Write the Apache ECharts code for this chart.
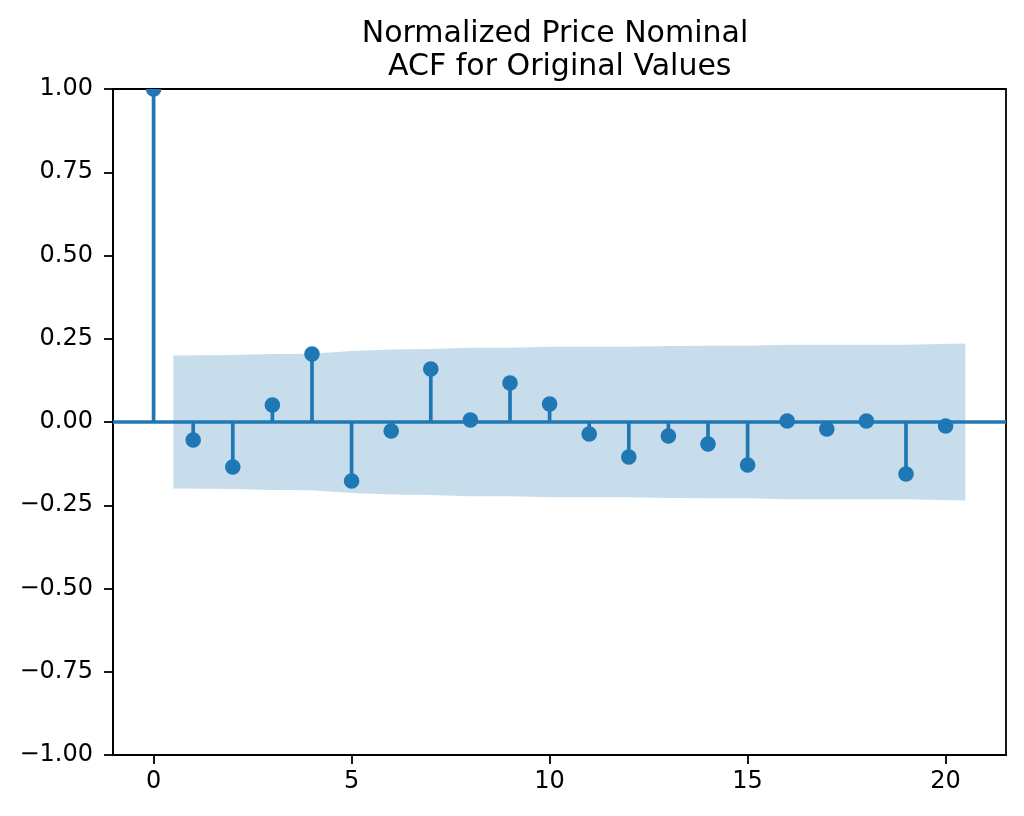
<!DOCTYPE html>
<html>
<head>
<meta charset="utf-8">
<script src="https://cdn.jsdelivr.net/npm/echarts@6/dist/echarts.min.js"></script>
<style>html,body{margin:0;padding:0;background:#fff}#c{width:1024px;height:816px}</style>
</head>
<body>
<div id="c"></div>
<script>
const titleText = "Normalized Price Nominal\n ACF for Original Values";
const lags = [0,1,2,3,4,5,6,7,8,9,10,11,12,13,14,15,16,17,18,19,20];
const acfValues = [1.0,-0.054,-0.135,0.051,0.204,-0.177,-0.027,0.159,0.006,0.117,0.054,-0.036,-0.105,-0.042,-0.066,-0.129,0.003,-0.021,0.003,-0.156,-0.012];
const bandLags = [0.5,2,3,4,5,6,7,8,9,10,11,12,13,14,15,16,17,18,19,20.5];
const bandValues = [0.200,0.201,0.204,0.205,0.213,0.218,0.219,0.223,0.223,0.226,0.226,0.226,0.228,0.229,0.229,0.232,0.232,0.232,0.232,0.236];
const xTicks = [0,5,10,15,20];

const C = '#1f77b4';
const FONT = 'DejaVu Sans';
const chart = echarts.init(document.getElementById('c'), null, {renderer:'canvas'});
const stemData = lags.map((l,i)=>[l, acfValues[i]]);
const upper = bandLags.map((l,i)=>[l, bandValues[i]]);
const lower = bandLags.map((l,i)=>[l, -bandValues[i]]);

chart.setOption({
  animation:false,
  backgroundColor:'#fff',
  title:{
    text:titleText, left:550, top:12, textAlign:'center',
    textStyle:{fontFamily:FONT, fontSize:30, fontWeight:'normal', color:'#000', lineHeight:33.5}
  },
  grid:{left:113, right:18, top:89, bottom:61, show:true, borderColor:'#000', borderWidth:1.8, backgroundColor:'transparent'},
  xAxis:{
    type:'value', min:-1.025, max:21.525,
    axisLine:{show:true, onZero:false, lineStyle:{color:'#000', width:1.8}},
    axisTick:{show:true, length:9, customValues:xTicks, lineStyle:{color:'#000', width:1.8}},
    axisLabel:{customValues:xTicks, margin:15, fontFamily:FONT, fontSize:24, color:'#000'},
    splitLine:{show:false}
  },
  yAxis:{
    type:'value', min:-1, max:1, interval:0.25,
    axisLine:{show:true, onZero:false, lineStyle:{color:'#000', width:1.8}},
    axisTick:{show:true, length:9, lineStyle:{color:'#000', width:1.8}},
    axisLabel:{margin:20, fontFamily:FONT, fontSize:24, color:'#000',
      formatter:v=>v.toFixed(2).replace('-','\u2212')},
    splitLine:{show:false}
  },
  series:[
    {type:'line', data:upper, symbol:'none', lineStyle:{width:0}, areaStyle:{color:C, opacity:0.25, origin:0}, z:1, silent:true},
    {type:'line', data:lower, symbol:'none', lineStyle:{width:0}, areaStyle:{color:C, opacity:0.25, origin:0}, z:1, silent:true},
    {type:'custom', data:stemData, clip:true, z:3,
      markLine:{silent:true, symbol:'none', label:{show:false}, lineStyle:{color:C, width:3.7, type:'solid'}, data:[{yAxis:0}]},
      renderItem:(params, api)=>{
        const p0 = api.coord([api.value(0), 0]);
        const p1 = api.coord([api.value(0), api.value(1)]);
        return {type:'group', children:[
          {type:'line', shape:{x1:p0[0], y1:p0[1], x2:p1[0], y2:p1[1]}, style:{stroke:C, lineWidth:3.7}},
          {type:'circle', shape:{cx:p1[0], cy:p1[1], r:7.8}, style:{fill:C}}
        ]};
      }
    }
  ]
});
</script>
</body>
</html>
